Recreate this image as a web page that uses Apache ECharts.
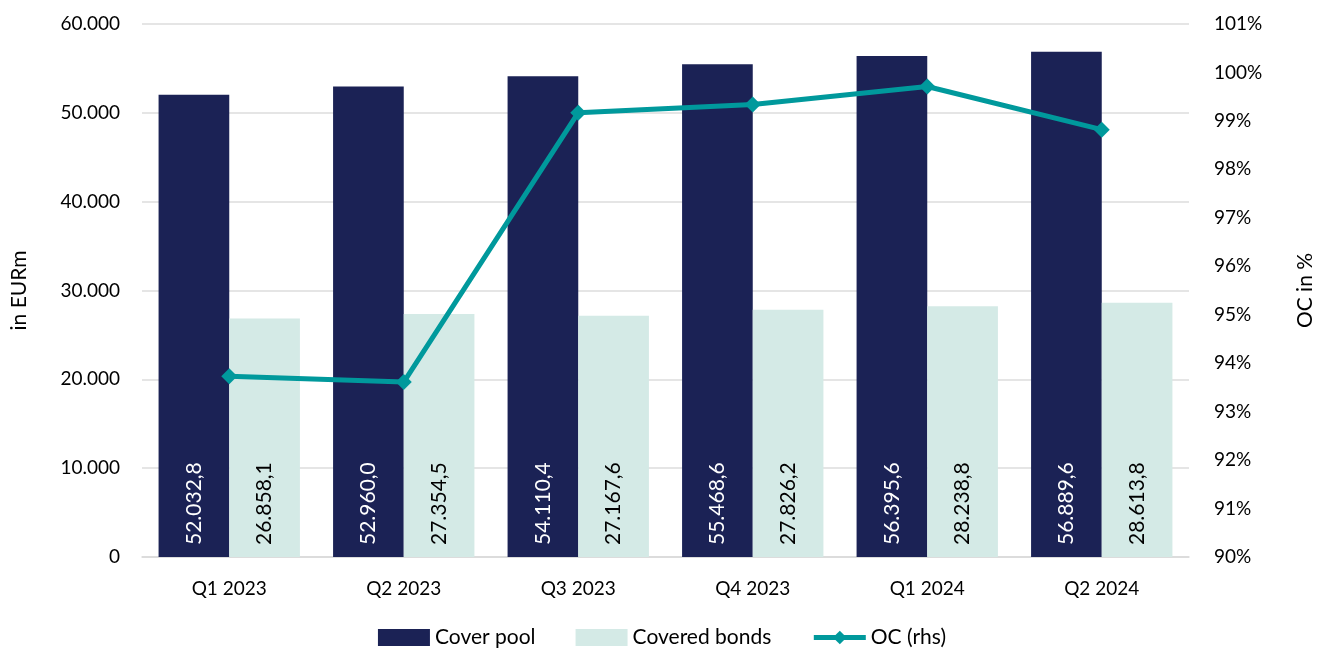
<!DOCTYPE html>
<html>
<head>
<meta charset="utf-8">
<script src="https://cdn.jsdelivr.net/npm/echarts@6/dist/echarts.min.js"></script>
<style>
  html, body { margin: 0; padding: 0; background: #fff; }
  #chart { width: 1324px; height: 655px; }
</style>
</head>
<body>
<div id="chart"></div>
<script>
// data
var categories = ['Q1 2023', 'Q2 2023', 'Q3 2023', 'Q4 2023', 'Q1 2024', 'Q2 2024'];
var coverPool = [52032.8, 52960.0, 54110.4, 55468.6, 56395.6, 56889.6];
var coveredBonds = [26858.1, 27354.5, 27167.6, 27826.2, 28238.8, 28613.8];
var ocRhs = [93.73, 93.61, 99.17, 99.34, 99.71, 98.82];

var FONT = 'Lato, "Open Sans", sans-serif';

function fmtThousands(v, dec) {
    var s = v.toFixed(dec);
    var parts = s.split('.');
    var intPart = parts[0].replace(/\B(?=(\d{3})+(?!\d))/g, '.');
    return dec > 0 ? intPart + ',' + parts[1] : intPart;
}

var myChart = echarts.init(document.getElementById('chart'), null, { renderer: 'canvas' });

var option = {
    animation: false,
    textStyle: { fontFamily: FONT },
    grid: { left: 142, right: 129, top: 24, bottom: 98 },
    legend: {
        bottom: 2,
        left: 'center',
        itemWidth: 52,
        itemHeight: 17,
        itemGap: 40,
        textStyle: { fontSize: 21, color: '#000', fontFamily: FONT },
        data: [
            { name: 'Cover pool', icon: 'rect' },
            { name: 'Covered bonds', icon: 'rect' },
            { name: 'OC (rhs)', lineStyle: { width: 5 } }
        ]
    },
    xAxis: {
        type: 'category',
        data: categories,
        axisLine: { lineStyle: { color: '#d9d9d9', width: 1.5 } },
        axisTick: { show: false },
        axisLabel: { fontSize: 19, color: '#000', margin: 22 }
    },
    yAxis: [
        {
            type: 'value',
            min: 0,
            max: 60000,
            interval: 10000,
            name: 'in EURm',
            nameLocation: 'middle',
            nameGap: 112,
            nameTextStyle: { fontSize: 21, color: '#000' },
            axisLabel: {
                fontSize: 19, color: '#000', margin: 22,
                formatter: function (v) { return fmtThousands(v, 0); }
            },
            splitLine: { lineStyle: { color: '#dcdcdc', width: 1.5 } }
        },
        {
            type: 'value',
            min: 90,
            max: 101,
            interval: 1,
            name: 'OC in %',
            nameLocation: 'middle',
            nameGap: 106,
            nameRotate: 90,
            nameTextStyle: { fontSize: 21, color: '#000' },
            axisLabel: {
                fontSize: 19, color: '#000', margin: 25,
                formatter: function (v) { return v + '%'; }
            },
            splitLine: { show: false }
        }
    ],
    series: [
        {
            name: 'Cover pool',
            type: 'bar',
            data: coverPool,
            barGap: '0%',
            barCategoryGap: '19%',
            itemStyle: { color: '#1b2255' },
            label: {
                show: true,
                position: 'insideBottom',
                rotate: 90,
                align: 'left',
                verticalAlign: 'middle',
                distance: 12,
                fontSize: 21,
                color: '#fff',
                formatter: function (p) { return fmtThousands(p.value, 1); }
            }
        },
        {
            name: 'Covered bonds',
            type: 'bar',
            data: coveredBonds,
            itemStyle: { color: '#d4eae6' },
            label: {
                show: true,
                position: 'insideBottom',
                rotate: 90,
                align: 'left',
                verticalAlign: 'middle',
                distance: 12,
                fontSize: 21,
                color: '#000',
                formatter: function (p) { return fmtThousands(p.value, 1); }
            }
        },
        {
            name: 'OC (rhs)',
            type: 'line',
            yAxisIndex: 1,
            data: ocRhs,
            symbol: 'diamond',
            symbolSize: 16,
            lineStyle: { color: '#00999c', width: 5 },
            itemStyle: { color: '#00999c' },
            z: 5
        }
    ]
};

myChart.setOption(option);
window.addEventListener('resize', myChart.resize);
</script>
</body>
</html>
